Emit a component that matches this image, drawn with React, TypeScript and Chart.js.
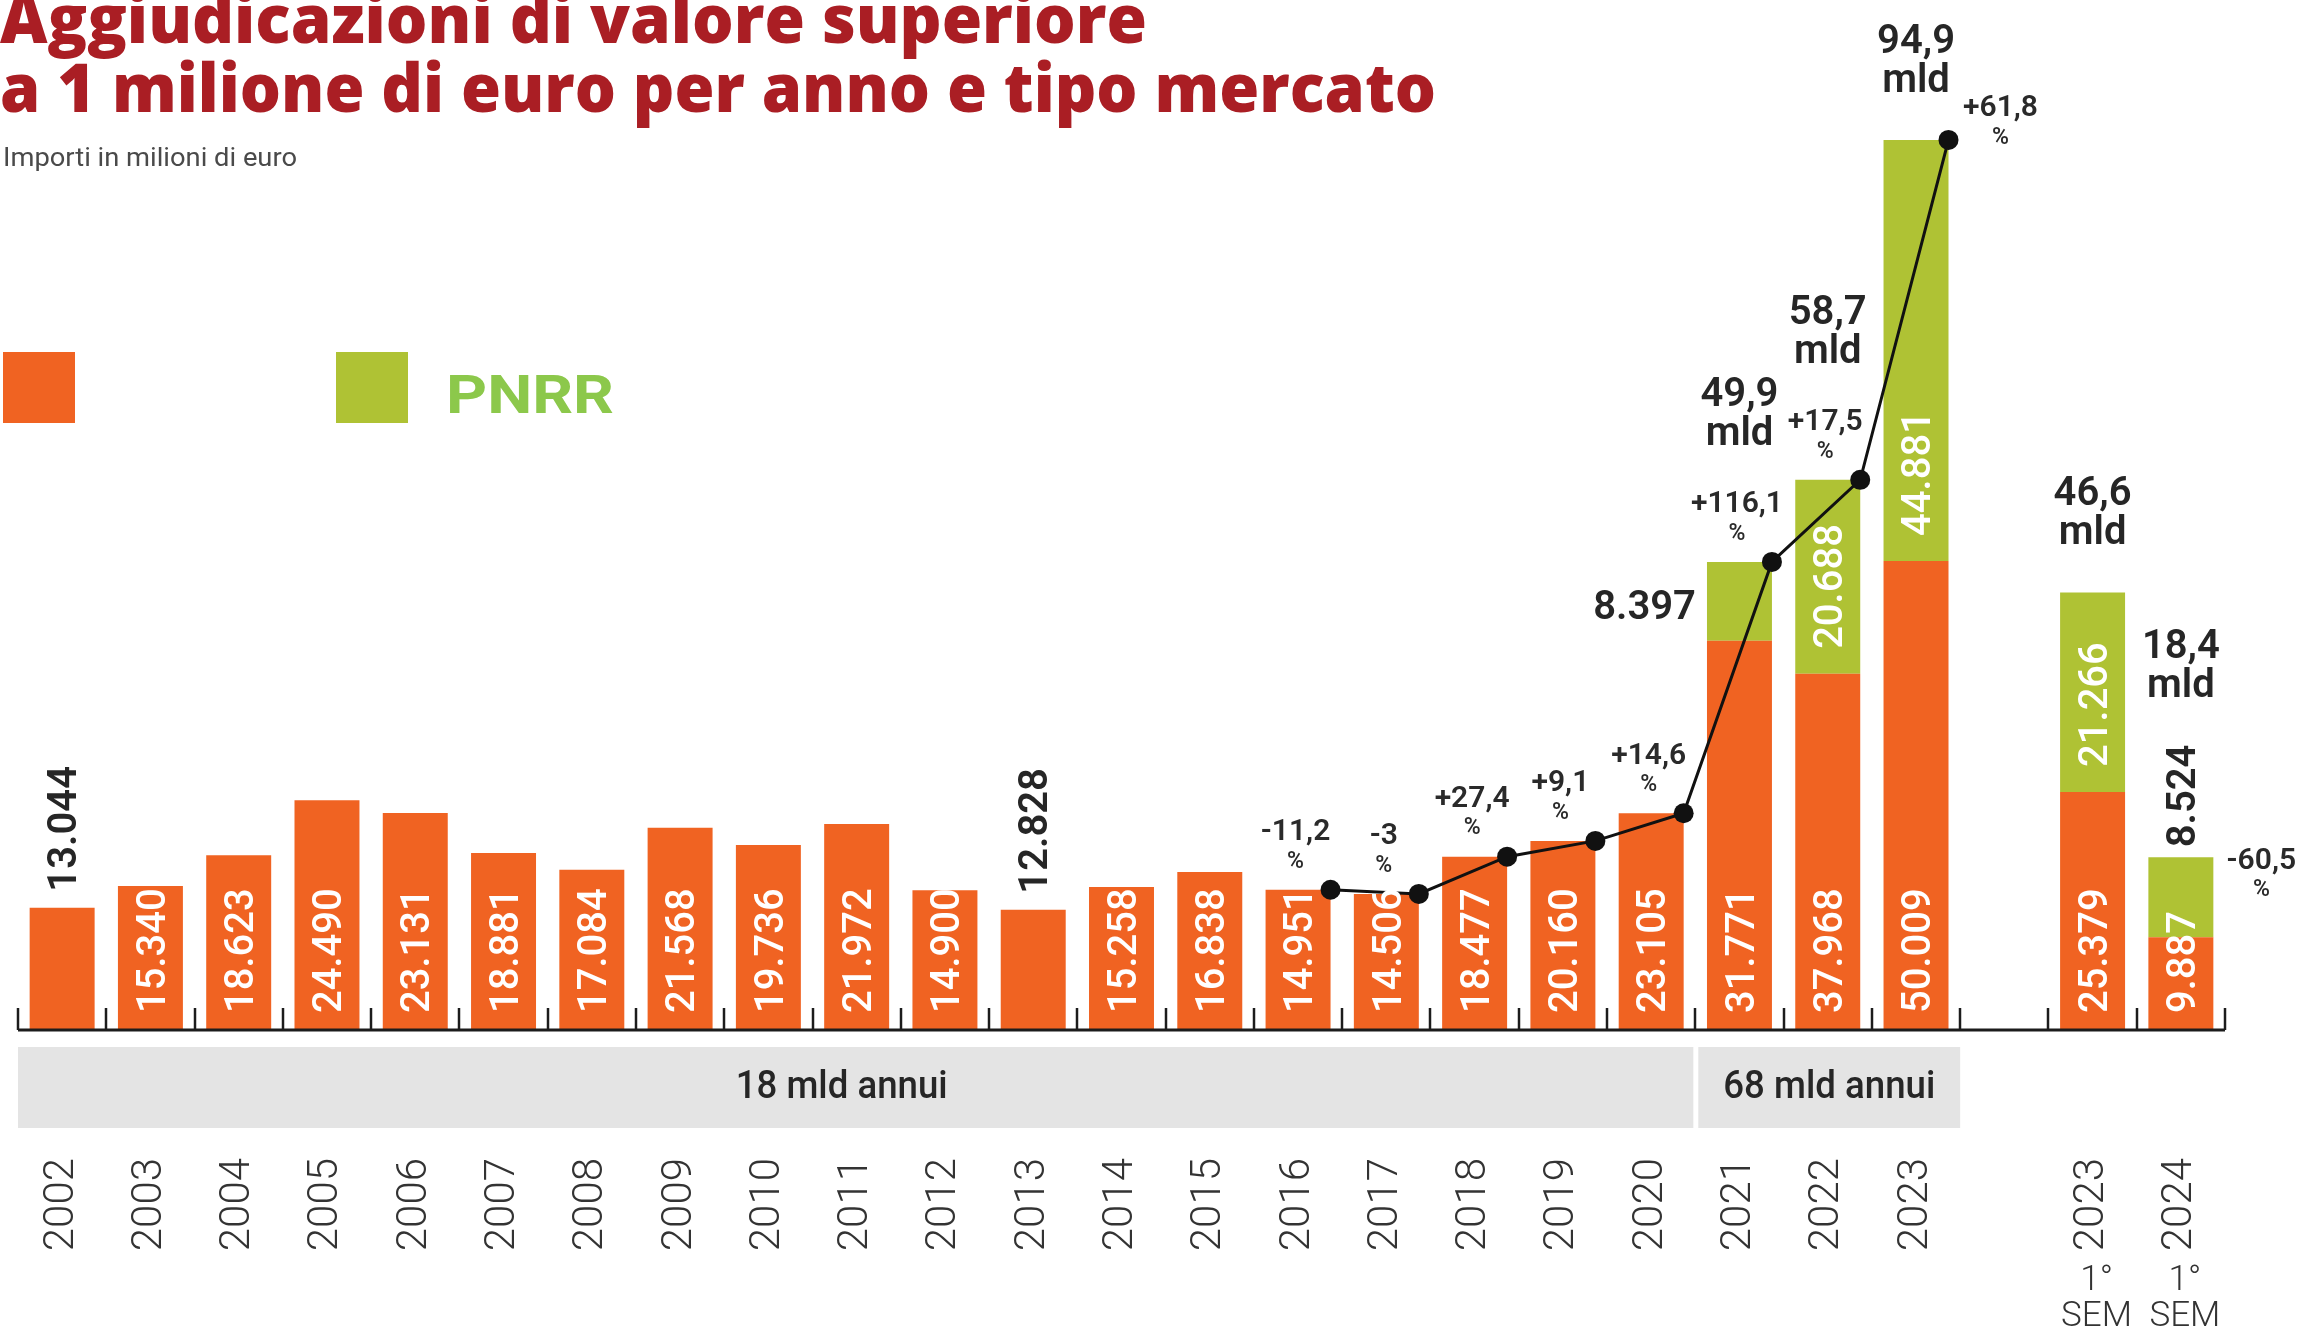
import React, { useEffect, useRef } from 'react';
import { Chart, registerables } from 'chart.js';

Chart.register(...registerables);

// ---------- DATA ----------
const categories = [
  '2002', '2003', '2004', '2005', '2006', '2007', '2008', '2009', '2010', '2011',
  '2012', '2013', '2014', '2015', '2016', '2017', '2018', '2019', '2020', '2021',
  '2022', '2023', '', '2023', '2024',
];
const semesterNotes = ['', '', '', '', '', '', '', '', '', '', '', '', '', '', '', '', '', '', '', '', '', '', '', '1°|SEM', '1°|SEM'];

// ordinary market (orange) – bar heights as drawn in the picture
const orangeValues = [
  13.044, 15.34, 18.623, 24.49, 23.131, 18.881, 17.084, 21.568, 19.736, 21.972,
  14.9, 12.828, 15.258, 16.838, 14.951, 14.506, 18.477, 20.16, 23.105, 41.503,
  37.968, 50.009, null, 25.379, 9.887,
];
const orangeLabels = [
  '13.044', '15.340', '18.623', '24.490', '23.131', '18.881', '17.084', '21.568', '19.736', '21.972',
  '14.900', '12.828', '15.258', '16.838', '14.951', '14.506', '18.477', '20.160', '23.105', '31.771',
  '37.968', '50.009', '', '25.379', '9.887',
];
// PNRR (green)
const greenValues = [
  null, null, null, null, null, null, null, null, null, null,
  null, null, null, null, null, null, null, null, null, 8.397,
  20.688, 44.881, null, 21.266, 8.524,
];
const greenLabels = [
  '', '', '', '', '', '', '', '', '', '',
  '', '', '', '', '', '', '', '', '', '8.397',
  '20.688', '44.881', '', '21.266', '8.524',
];
// trend line (totals)
const trendValues = [
  null, null, null, null, null, null, null, null, null, null,
  null, null, null, null, 14.951, 14.506, 18.477, 20.16, 23.105, 49.9,
  58.656, 94.89, null, null, null,
];
const percentLabels = [
  '', '', '', '', '', '', '', '', '', '',
  '', '', '', '', '-11,2', '-3', '+27,4', '+9,1', '+14,6', '+116,1',
  '+17,5', '+61,8', '', '', '-60,5',
];
const totalLabels = [
  '', '', '', '', '', '', '', '', '', '',
  '', '', '', '', '', '', '', '', '', '49,9',
  '58,7', '94,9', '', '46,6', '18,4',
];
const bandLabels = ['18 mld annui', '68 mld annui'];
const bandFirst = [0, 19];
const bandLast = [18, 21];

const titleLines = ['Aggiudicazioni di valore superiore', 'a 1 milione di euro per anno e tipo mercato'];
const subtitle = 'Importi in milioni di euro';
const legendLabels = ['', 'PNRR'];

// ---------- STYLE ----------
const ORANGE = '#F06322';
const GREEN = '#AFC234';
const DARK = '#262626';
const FONT = 'Roboto, "Open Sans", sans-serif';
const BAR_PCT = 0.736;
const ORANGE_OUTSIDE = new Set([0, 11]);
const GREEN_TOP = new Set([24]);
const GREEN_LEFT = new Set([19]);

function fitText(ctx: CanvasRenderingContext2D, text: string, x: number, y: number, width: number, align: CanvasTextAlign = 'left') {
  const w = ctx.measureText(text).width || 1;
  const sx = width / w;
  ctx.save();
  ctx.translate(x, y);
  ctx.scale(sx, 1);
  ctx.textAlign = align;
  ctx.fillText(text, 0, 0);
  ctx.restore();
}

function rotatedText(ctx: CanvasRenderingContext2D, text: string, x: number, yStart: number, size: number) {
  ctx.save();
  ctx.translate(x, yStart);
  ctx.rotate(-Math.PI / 2);
  ctx.textAlign = 'left';
  ctx.textBaseline = 'alphabetic';
  ctx.fillText(text, 0, size * 0.355);
  ctx.restore();
}

// trend points sit on the right edge of their bar
const shiftPlugin = {
  id: 'shiftTrend',
  afterDatasetsUpdate(chart: any) {
    const metaO = chart.getDatasetMeta(0);
    const metaL = chart.getDatasetMeta(2);
    metaL.data.forEach((pt: any, i: number) => {
      const bar = metaO.data[i];
      if (bar && trendValues[i] != null) pt.x = bar.x + bar.width / 2;
    });
    if (metaL.dataset) (metaL.dataset as any)._path = undefined;
  },
};

const decorPlugin = {
  id: 'decor',
  afterDatasetsDraw(chart: any) {
    const ctx: CanvasRenderingContext2D = chart.ctx;
    const area = chart.chartArea;
    const xs = chart.scales.x;
    const n = categories.length;
    const metaO = chart.getDatasetMeta(0);
    const metaG = chart.getDatasetMeta(1);
    const metaL = chart.getDatasetMeta(2);
    const step = (xs.right - xs.left) / n;
    const boundary = (k: number) => xs.left + k * step;

    ctx.save();
    // axis line
    ctx.strokeStyle = '#1c1c1c';
    ctx.lineWidth = 3;
    ctx.beginPath();
    ctx.moveTo(xs.left, area.bottom);
    ctx.lineTo(xs.right, area.bottom);
    ctx.stroke();
    // tick marks at category boundaries (pointing up)
    ctx.lineWidth = 2.5;
    for (let k = 0; k <= n; k++) {
      const x = Math.round(boundary(k));
      ctx.beginPath();
      ctx.moveTo(x, area.bottom);
      ctx.lineTo(x, area.bottom - 22);
      ctx.stroke();
    }

    let lastPoint = -1;
    trendValues.forEach((v, i) => {
      if (v != null) lastPoint = i;
    });

    const size = 40;
    for (let i = 0; i < n; i++) {
      const bo = metaO.data[i];
      const bg = metaG.data[i];
      const hasO = orangeValues[i] != null;
      const hasG = greenValues[i] != null;
      if (!hasO && !hasG) continue;
      const cx = (hasO ? bo : bg).x;
      const halfW = (hasO ? bo : bg).width / 2;
      const topY = hasG ? bg.y : bo.y;
      let anchor = topY;

      // orange label
      if (hasO && orangeLabels[i]) {
        ctx.font = `500 ${size}px ${FONT}`;
        if (ORANGE_OUTSIDE.has(i)) {
          ctx.fillStyle = DARK;
          ctx.font = `600 ${size}px ${FONT}`;
          const start = bo.y - 16;
          rotatedText(ctx, orangeLabels[i], cx, start, size);
          anchor = Math.min(anchor, start - ctx.measureText(orangeLabels[i]).width);
        } else {
          ctx.fillStyle = '#ffffff';
          rotatedText(ctx, orangeLabels[i], cx, area.bottom - 17, size);
        }
      }
      // green label
      if (hasG && greenLabels[i]) {
        if (GREEN_TOP.has(i)) {
          ctx.fillStyle = DARK;
          ctx.font = `600 ${size}px ${FONT}`;
          const start = bg.y - 10;
          rotatedText(ctx, greenLabels[i], cx, start, size);
          anchor = Math.min(anchor, start - ctx.measureText(greenLabels[i]).width);
        } else if (GREEN_LEFT.has(i)) {
          ctx.fillStyle = DARK;
          ctx.font = `600 ${size}px ${FONT}`;
          ctx.textAlign = 'right';
          ctx.textBaseline = 'middle';
          ctx.fillText(greenLabels[i], cx - halfW - 11, (bg.y + bg.base) / 2 + 8);
        } else {
          ctx.fillStyle = '#ffffff';
          ctx.font = `500 ${size}px ${FONT}`;
          rotatedText(ctx, greenLabels[i], cx, bg.base - 25, size);
        }
      }

      // percentage labels
      if (percentLabels[i]) {
        let px: number, ny: number;
        const p = trendValues[i] != null ? metaL.data[i] : null;
        if (p && i !== lastPoint) {
          px = p.x - 35;
          ny = p.y - 57;
          anchor = Math.min(anchor, ny - 12);
        } else if (p) {
          px = p.x + 52;
          ny = p.y - 31;
        } else {
          px = cx + halfW + 48;
          ny = topY + 4;
        }
        ctx.fillStyle = '#2a2a2a';
        ctx.textAlign = 'center';
        ctx.textBaseline = 'middle';
        ctx.font = `600 30px ${FONT}`;
        ctx.fillText(percentLabels[i], px, ny);
        ctx.font = `500 23px ${FONT}`;
        ctx.fillText('%', px, ny + 29);
      }

      // total labels
      if (totalLabels[i]) {
        const mldY = anchor - 58;
        ctx.fillStyle = DARK;
        ctx.textAlign = 'center';
        ctx.textBaseline = 'middle';
        ctx.font = `600 40px ${FONT}`;
        ctx.fillText(totalLabels[i], cx, mldY - 39);
        ctx.fillText('mld', cx, mldY);
      }
    }

    // gray bands
    const bandTop = area.bottom + 17;
    const bandH = 81;
    bandLabels.forEach((lab, b) => {
      const x0 = boundary(bandFirst[b]) + (b === 0 ? 0 : 3);
      const x1 = boundary(bandLast[b] + 1) - (b === 0 ? 2 : 0);
      ctx.fillStyle = '#E4E4E4';
      ctx.fillRect(x0, bandTop, x1 - x0, bandH);
      ctx.fillStyle = DARK;
      ctx.font = `500 38px ${FONT}`;
      ctx.textBaseline = 'middle';
      fitText(ctx, lab, (x0 + x1) / 2 - (b === 0 ? 14 : 0), bandTop + bandH / 2 + 1, 212, 'center');
    });

    // semester notes under labels
    ctx.fillStyle = '#333';
    ctx.font = `300 35px ${FONT}`;
    ctx.textAlign = 'center';
    ctx.textBaseline = 'middle';
    semesterNotes.forEach((note, i) => {
      if (!note) return;
      const x = xs.getPixelForValue(i);
      const parts = note.split('|');
      parts.forEach((t, k) => ctx.fillText(t, x + 4, area.bottom + 251 + k * 36));
    });
    ctx.restore();
  },
  afterDraw(chart: any) {
    const ctx: CanvasRenderingContext2D = chart.ctx;
    ctx.save();
    // title
    ctx.fillStyle = '#AA1E24';
    ctx.font = `800 68px "Open Sans", ${FONT}`;
    ctx.textBaseline = 'alphabetic';
    fitText(ctx, titleLines[0], 0, 43, 1147);
    fitText(ctx, titleLines[1], 0, 112, 1436);
    // subtitle
    ctx.fillStyle = '#4a4a4a';
    ctx.font = `400 25px ${FONT}`;
    fitText(ctx, subtitle, 3, 166, 294);
    // legend
    ctx.fillStyle = ORANGE;
    ctx.fillRect(3, 352, 72, 71);
    ctx.fillStyle = GREEN;
    ctx.fillRect(336, 352, 72, 71);
    ctx.fillStyle = '#8CC84B';
    ctx.font = `700 54px ${FONT}`;
    if (legendLabels[0]) fitText(ctx, legendLabels[0], 113, 413, 168);
    fitText(ctx, legendLabels[1], 446, 413, 168);
    ctx.restore();
  },
};

export default function App() {
  const ref = useRef<HTMLCanvasElement>(null);
  useEffect(() => {
    const canvas = ref.current;
    if (!canvas) return;
    const chart = new Chart(canvas, {
      type: 'bar',
      data: {
        labels: categories,
        datasets: [
          {
            label: 'Mercato ordinario',
            data: orangeValues,
            backgroundColor: ORANGE,
            borderWidth: 0,
            stack: 'mercato',
            grouped: false,
            order: 1,
            barPercentage: BAR_PCT,
            categoryPercentage: 1,
          } as any,
          {
            label: 'PNRR',
            data: greenValues,
            backgroundColor: GREEN,
            borderWidth: 0,
            stack: 'mercato',
            grouped: false,
            order: 1,
            barPercentage: BAR_PCT,
            categoryPercentage: 1,
          } as any,
          {
            type: 'line',
            label: 'Totale',
            data: trendValues,
            stack: 'trend',
            borderColor: '#111111',
            borderWidth: 3,
            pointRadius: 10,
            pointBackgroundColor: '#111111',
            pointBorderWidth: 0,
            tension: 0,
            order: 0,
            clip: false,
          } as any,
        ],
      },
      options: {
        responsive: false,
        animation: false,
        devicePixelRatio: 1,
        layout: { padding: { left: 18, right: 77, top: 92, bottom: 0 } },
        plugins: {
          legend: { display: false },
          tooltip: { enabled: false },
          title: { display: false },
        },
        scales: {
          x: {
            type: 'category',
            stacked: true,
            offset: true,
            grid: { display: false, drawTicks: false },
            border: { display: false },
            ticks: {
              autoSkip: false,
              minRotation: 90,
              maxRotation: 90,
              padding: 128,
              color: '#333333',
              font: { family: 'Roboto', size: 42, weight: '300' },
            },
            afterFit: (s: any) => {
              s.height = 305;
              s.paddingLeft = 0;
              s.paddingRight = 0;
            },
          },
          y: { stacked: true, display: false, min: 0, max: 100 },
        },
      } as any,
      plugins: [shiftPlugin, decorPlugin],
    });
    return () => chart.destroy();
  }, []);

  return (
    <div style={{ position: 'fixed', left: 0, top: 0, width: 2302, height: 1335, background: '#ffffff' }}>
      <canvas ref={ref} width={2302} height={1335} style={{ width: 2302, height: 1335, display: 'block' }} />
    </div>
  );
}
